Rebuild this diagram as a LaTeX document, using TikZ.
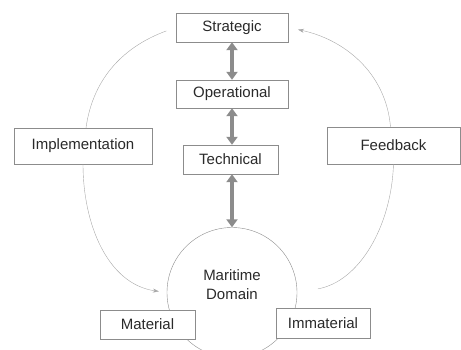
\documentclass[tikz,border=0pt]{standalone}
\usepackage{fontspec}
\setmainfont{Liberation Sans}
\usetikzlibrary{arrows.meta}
\definecolor{framegray}{HTML}{8C8C8C}
\definecolor{flowgray}{HTML}{A8A8A8}
\definecolor{textgray}{HTML}{2A2A2A}

\begin{document}
\begin{tikzpicture}[x=1pt,y=-1pt,font=\fontsize{15}{18}\selectfont,text=textgray]
      \useasboundingbox (0,0) rectangle (461,349);
      \node[circle,draw=framegray,minimum size=130pt,inner sep=0pt] (dom) at (232,292.5) {};
      \node[align=center,font=\fontsize{15}{19}\selectfont] (domlabel) at (232,285) {Maritime\\Domain};
      \begin{scope}[every node/.style={draw=framegray,fill=white,inner sep=0pt}]
        \node[minimum width=112pt,minimum height=29pt] (strat) at (232,27.5) {Strategic};
        \node[minimum width=112pt,minimum height=28pt] (oper) at (232,94) {Operational};
        \node[minimum width=95pt,minimum height=29pt] (tech) at (230.5,159.5) {Technical};
        \node[minimum width=138pt,minimum height=36pt] (impl) at (83,146) {Implementation};
        \node[minimum width=133pt,minimum height=37pt] (feed) at (393.5,145.5) {Feedback};
        \node[minimum width=95pt,minimum height=29pt] (mat) at (147.5,324.5) {Material};
        \node[minimum width=94pt,minimum height=30pt] (immat) at (323,323) {Immaterial};
      \end{scope}
      \begin{scope}[every edge/.style={draw=framegray,line width=3.5pt,
          {Triangle[width=11pt,length=8pt]}-{Triangle[width=11pt,length=8pt]}}]
        \path (strat) edge (oper);
        \path (oper.south) edge (oper.south |- tech.north);
        \path (tech.south -| dom.north) edge (dom.north);
      \end{scope}
      \begin{scope}[every edge/.style={draw=flowgray,thin,-{Stealth[length=6pt,width=4pt]}}]
        \path (strat.west) edge[-,shorten <=10pt,out=200,in=82] ([xshift=3pt]impl.north);
        \path (impl.south) edge[out=-90,in=172,shorten >=8pt] (dom.180);
        \path (dom.east) edge[-,out=10,in=-92,shorten <=21pt] (feed.south);
        \path ([xshift=-3pt]feed.north) edge[out=95,in=-12,shorten >=10pt] (strat.east);
      \end{scope}
    \end{tikzpicture}
\end{document}
